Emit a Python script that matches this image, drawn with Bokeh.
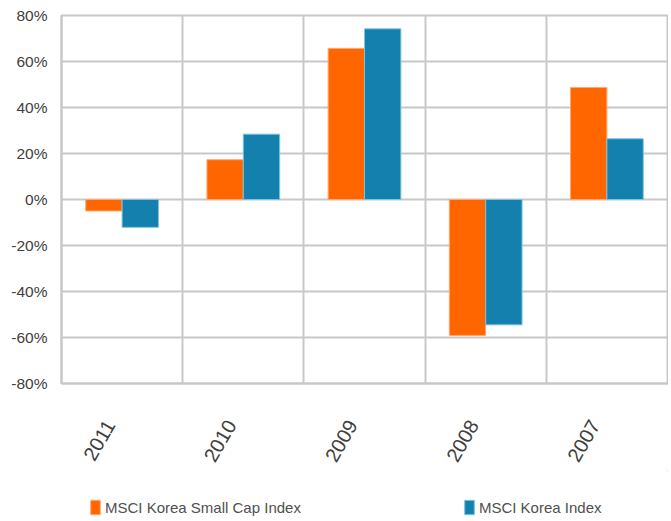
import math
from bokeh.plotting import figure
from bokeh.layouts import column
from bokeh.models import (Range1d, FixedTicker, PrintfTickFormatter, Legend, LegendItem,
                          ColumnDataSource)
from bokeh.embed import file_html
from bokeh.resources import INLINE

years = ["2011", "2010", "2009", "2008", "2007"]
small_cap = [-5, 17.3, 65.7, -59.1, 48.7]
korea_index = [-12.1, 28.4, 74.2, -54.5, 26.4]
y_ticks = [-80, -60, -40, -20, 0, 20, 40, 60, 80]
series_names = ["MSCI Korea Small Cap Index", "MSCI Korea Index"]

ORANGE = "#FF6600"
BLUE = "#1380AD"
ORANGE_EDGE = "#ffa870"
BLUE_EDGE = "#7cc3dc"
TEXT = "#404040"
GRID = "#c8c8c8"
FONT = "Liberation Sans"

W = 668
idx = list(range(len(years)))
centers = [i + 0.5 for i in idx]
label_shift = 0.1  # rotated labels sit a little left of the category centre
bar_w = 0.30
src = ColumnDataSource(dict(
    x_small=[c - bar_w / 2 for c in centers],
    x_index=[c + bar_w / 2 for c in centers],
    small=small_cap, index=korea_index,
))

p = figure(width=W, height=470, output_backend="svg", toolbar_location=None,
           x_range=Range1d(0, len(years)), y_range=Range1d(-80, 80),
           min_border_top=15, min_border_left=61, min_border_right=1, min_border_bottom=87)
p.background_fill_color = "white"
p.border_fill_color = "white"
p.outline_line_color = GRID
p.outline_line_width = 2

p.vbar(x="x_small", top="small", bottom=0, width=bar_w, source=src,
       fill_color=ORANGE, line_color=ORANGE_EDGE, line_width=1)
p.vbar(x="x_index", top="index", bottom=0, width=bar_w, source=src,
       fill_color=BLUE, line_color=BLUE_EDGE, line_width=1)

# grids
p.xgrid.ticker = FixedTicker(ticks=list(range(len(years) + 1)))
p.ygrid.ticker = FixedTicker(ticks=y_ticks)
for g in (p.xgrid, p.ygrid):
    g.grid_line_color = GRID
    g.grid_line_width = 2

# y axis
p.yaxis.ticker = FixedTicker(ticks=y_ticks)
p.yaxis.formatter = PrintfTickFormatter(format="%d%%")
p.yaxis.axis_line_color = GRID
p.yaxis.axis_line_width = 2
p.yaxis.major_tick_line_color = None
p.yaxis.minor_tick_line_color = None
p.yaxis.major_label_standoff = 8
p.yaxis.major_label_text_font = FONT
p.yaxis.major_label_text_font_size = "15.5px"
p.yaxis.major_label_text_color = TEXT

# x axis
label_pos = [c - label_shift for c in centers]
p.xaxis.ticker = FixedTicker(ticks=label_pos)
p.xaxis.major_label_overrides = {c: y for c, y in zip(label_pos, years)}
p.xaxis.axis_line_color = GRID
p.xaxis.axis_line_width = 2
p.xaxis.major_tick_line_color = None
p.xaxis.minor_tick_line_color = None
p.xaxis.major_label_orientation = math.pi / 3
p.xaxis.major_label_standoff = 32
p.xaxis.major_label_text_font = FONT
p.xaxis.major_label_text_font_size = "20px"
p.xaxis.major_label_text_color = TEXT

# legend strip below the chart
lg = figure(width=W, height=50, output_backend="svg", toolbar_location=None,
            x_range=Range1d(0, 1), y_range=Range1d(0, 1),
            x_axis_location=None, y_axis_location=None,
            min_border=0, outline_line_color=None)
lg.grid.visible = False
lg.border_fill_color = "white"
lg.background_fill_color = "white"
hidden = ColumnDataSource(dict(x=[5], top=[5], bottom=[4]))
l1 = lg.vbar(x="x", top="top", bottom="bottom", width=0.1, source=hidden,
             fill_color=ORANGE, line_color=ORANGE_EDGE)
l2 = lg.vbar(x="x", top="top", bottom="bottom", width=0.1, source=hidden,
             fill_color=BLUE, line_color=BLUE_EDGE)
legend = Legend(items=[LegendItem(label=series_names[0], renderers=[l1]),
                       LegendItem(label=series_names[1], renderers=[l2])],
                orientation="horizontal", location=(28, 4))
legend.glyph_width = 12
legend.glyph_height = 18
legend.label_height = 18
legend.label_standoff = 4
legend.spacing = 162
legend.padding = 0
legend.margin = 0
legend.border_line_color = None
legend.background_fill_alpha = 0
legend.label_text_font = FONT
legend.label_text_font_size = "15px"
legend.label_text_color = "#505050"
lg.add_layout(legend)

layout = column(p, lg, spacing=0)
open("out.html", "w").write(file_html(layout, INLINE))
